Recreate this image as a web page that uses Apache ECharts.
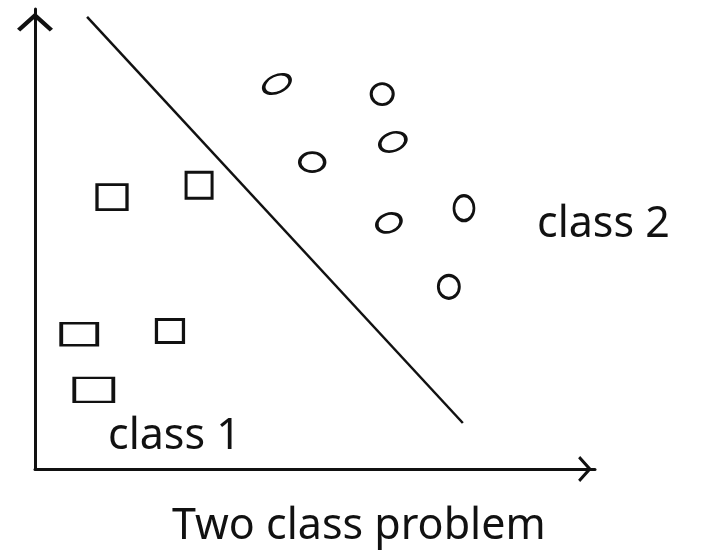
<!DOCTYPE html>
<html>
<head>
<meta charset="utf-8">
<script src="https://cdn.jsdelivr.net/npm/echarts@6/dist/echarts.min.js"></script>
<style>
  html, body { margin: 0; padding: 0; background: #ffffff; }
  #chart { width: 717px; height: 559px; }
</style>
</head>
<body>
<div id="chart"></div>
<script>
// Class 1 samples (squares)
const class1X = [1.375, 2.93, 0.79, 2.41, 1.05];
const class1Y = [5.91, 6.17, 2.93, 3.00, 1.72];

// Class 2 samples (circles)
const class2X = [4.32, 6.20, 6.39, 4.95, 6.32, 7.66, 7.39];
const class2Y = [8.37, 8.15, 7.11, 6.67, 5.35, 5.67, 3.96];

// Separating line end points
const boundaryX = [0.93, 7.64];
const boundaryY = [9.83, 1.00];

// Text
const title = 'Two class problem';
const class1Label = 'class 1';
const class2Label = 'class 2';

// Drawing style: pen-like strokes
const ink = '#111111';
const squareSizes = [[30, 25], [26, 26], [36, 22], [27, 23], [39, 24]];
const circleShapes = [
  { size: [28, 17], rotate: 25 },
  { size: [22, 21], rotate: 0 },
  { size: [27, 18], rotate: 20 },
  { size: [25, 19], rotate: 0 },
  { size: [25, 18], rotate: 20 },
  { size: [20, 25], rotate: 0 },
  { size: [21, 23], rotate: 0 }
];
const ellipsePath = 'path://M0,10 A10,10 0 1,1 20,10 A10,10 0 1,1 0,10 Z';
const chevron = 'path://M10,0 L20,9 L18.2,10.6 L10,3.2 L1.8,10.6 L0,9 Z';

const chart = echarts.init(document.getElementById('chart'), null, { renderer: 'canvas' });

const squareData = class1X.map((x, i) => ({
  value: [x, class1Y[i]],
  symbolSize: squareSizes[i]
}));
const circleData = class2X.map((x, i) => ({
  value: [x, class2Y[i]],
  symbolSize: circleShapes[i].size,
  symbolRotate: circleShapes[i].rotate
}));

const axisCommon = {
  type: 'value',
  min: 0,
  max: 10,
  splitLine: { show: false },
  axisTick: { show: false },
  axisLabel: { show: false }
};

const textStyle = {
  fontFamily: '"Noto Sans", sans-serif',
  fontSize: 43,
  fill: ink
};

const markStyle = { color: 'rgba(0,0,0,0)', borderColor: ink, borderWidth: 3, opacity: 1 };

chart.setOption({
  backgroundColor: '#ffffff',
  animation: false,
  grid: { left: 35, right: 122, top: 9, bottom: 90, containLabel: false },
  xAxis: Object.assign({}, axisCommon, {
    axisLine: {
      show: true,
      lineStyle: { color: ink, width: 3 },
      symbol: ['none', chevron],
      symbolSize: [26, 20],
      symbolOffset: [0, -10]
    }
  }),
  yAxis: Object.assign({}, axisCommon, {
    axisLine: {
      show: true,
      lineStyle: { color: ink, width: 3 },
      symbol: ['none', chevron],
      symbolSize: [36, 26],
      symbolOffset: [0, -13]
    }
  }),
  series: [
    {
      name: 'boundary',
      type: 'line',
      data: boundaryX.map((x, i) => [x, boundaryY[i]]),
      showSymbol: false,
      lineStyle: { color: ink, width: 2.5 },
      silent: true
    },
    {
      name: class1Label,
      type: 'scatter',
      symbol: 'rect',
      data: squareData,
      itemStyle: markStyle
    },
    {
      name: class2Label,
      type: 'scatter',
      symbol: ellipsePath,
      data: circleData,
      itemStyle: markStyle
    }
  ],
  graphic: [
    { type: 'text', left: 108, top: 415, style: Object.assign({ text: class1Label }, textStyle) },
    { type: 'text', left: 537, top: 203, style: Object.assign({ text: class2Label }, textStyle) },
    { type: 'text', left: 172, top: 505, style: Object.assign({ text: title }, textStyle) }
  ]
});
</script>
</body>
</html>
